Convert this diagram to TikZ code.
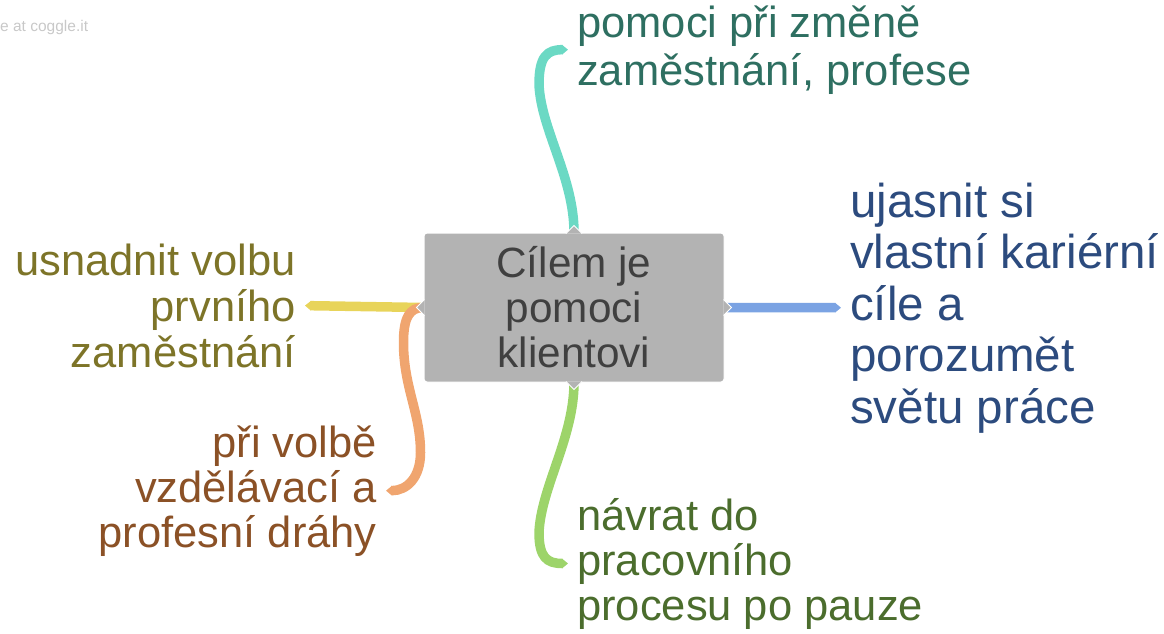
\documentclass[tikz,border=0pt]{standalone}
\usepackage{fontspec}
\setmainfont{Liberation Sans}
\usetikzlibrary{arrows.meta}
\definecolor{creditgray}{HTML}{C8C8C8}
\definecolor{rootgray}{HTML}{B3B3B3}
\definecolor{roottext}{HTML}{404040}
\definecolor{changeline}{HTML}{6BD9C4}
\definecolor{changetext}{HTML}{2E6F61}
\definecolor{goalsline}{HTML}{7BA3E3}
\definecolor{goalstext}{HTML}{2C4B7E}
\definecolor{firstline}{HTML}{E8D45A}
\definecolor{firsttext}{HTML}{7D7428}
\definecolor{schoolline}{HTML}{F0A56F}
\definecolor{schooltext}{HTML}{8B5126}
\definecolor{returnline}{HTML}{9DD46A}
\definecolor{returntext}{HTML}{4B6D2D}
\begin{document}
\begin{tikzpicture}[x=1pt,y=-1pt,
        branch/.style={line width=9.5pt,shorten >=9pt,-{Triangle[length=6pt,width=9.5pt]}},
        leaf/.style={inner sep=0pt,font=\fontsize{43.5}{46}\selectfont},
        notch/.style={fill=rootgray,draw=white,line width=1pt}]
        \useasboundingbox (0,0) rectangle (1164,633);
        \node[anchor=base west,inner sep=0pt,text=creditgray,font=\fontsize{15.5}{18}\selectfont] (credit) at (0,31) {e at coggle.it};

        \node[fill=rootgray,draw=white,line width=1pt,rounded corners=3pt,minimum width=300pt,minimum height=149pt,
              align=center,text=roottext,font=\fontsize{42.3}{45}\selectfont] (root) at (574,307.5) {Cílem je\\pomoci\\klientovi};

        \node[leaf,anchor=base west,align=left,text=changetext,font=\fontsize{43.5}{48}\selectfont] (change) at (577,85) {pomoci při změně\\zaměstnání, profese};
        \node[leaf,anchor=base west,align=left,text=goalstext,font=\fontsize{47.5}{51.5}\selectfont] (goals) at (850,423) {ujasnit si\\vlastní kariérní\\cíle a\\porozumět\\světu práce};
        \node[leaf,anchor=base east,align=right,text=firsttext] (first) at (296,367) {usnadnit volbu\\prvního\\zaměstnání};
        \node[leaf,anchor=base east,align=right,text=schooltext,font=\fontsize{43.5}{45}\selectfont] (school) at (377,547) {při volbě\\vzdělávací a\\profesní dráhy};
        \node[leaf,anchor=base west,align=left,text=returntext,font=\fontsize{43.5}{45}\selectfont] (return) at (577,620) {návrat do\\pracovního\\procesu po pauze};

        \draw[branch,changeline] (root.north) .. controls +(0,-55) and +(2,45) .. ++(-35,-148) .. controls +(0,-28) and +(-30,0) .. (change.west);
        \draw[branch,goalsline] (root.east) -- (goals.west);
        \draw[branch,firstline] (root.west) -- (first.east);
        \draw[branch,schoolline] (root.west) .. controls +(-14,0) and +(0,-25) .. ++(-20,35) .. controls +(0,45) and +(0,-40) .. ++(17,110) .. controls +(0,25) and +(30,0) .. (school.east);
        \draw[branch,returnline] (root.south) .. controls +(0,55) and +(2,-45) .. ++(-35,150) .. controls +(0,25) and +(-30,0) .. (return.west);

        \filldraw[notch] (root.north) ++(-8,1) -- ++(8,-8) -- ++(8,8);
        \filldraw[notch] (root.south) ++(-8,-1) -- ++(8,8) -- ++(8,-8);
        \filldraw[notch] (root.west) ++(1,-8) -- ++(-8,8) -- ++(8,8);
        \filldraw[notch] (root.east) ++(-1,-8) -- ++(8,8) -- ++(-8,8);
\end{tikzpicture}
\end{document}
